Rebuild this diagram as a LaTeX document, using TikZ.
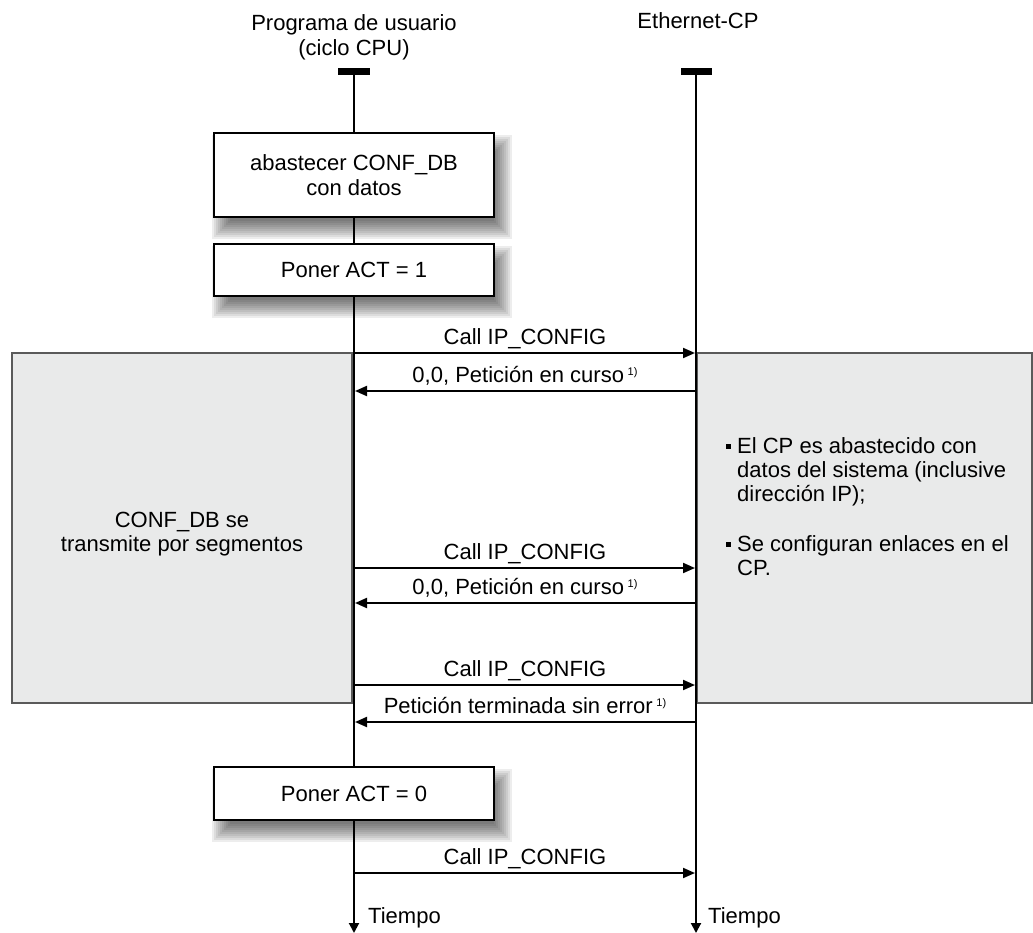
\documentclass[tikz,border=0pt]{standalone}
\usepackage{fontspec}
\setmainfont{Liberation Sans}
\usetikzlibrary{arrows.meta,calc}
\definecolor{panel}{RGB}{233,234,234}
\definecolor{panelborder}{RGB}{90,90,90}
\newcommand{\supone}{\,{\fontsize{11}{12}\selectfont\raisebox{7.5pt}{1)}}}
\newcommand{\softshadow}[4]{%
  \foreach \k in {0,...,9}{%
    \fill[black, opacity=0.07] (#1+8-10+2*\k,#2+12-10+2*\k) rectangle (#3+8+10-2*\k,#4+12+10-2*\k);
  }%
}
\begin{document}
\begin{tikzpicture}[x=1pt,y=-1pt,
  txt/.style={font=\fontsize{22}{25}\selectfont, inner sep=0pt, align=center},
  lifeline/.style={line width=2pt, -{Triangle[length=10pt,width=10pt]}},
  msg/.style={line width=2pt, -{Triangle[length=12pt,width=10pt]}, shorten >=1pt, shorten <=1pt},
  panelbox/.style={fill=panel, draw=panelborder, line width=1.5pt},
  actbox/.style={draw=black, fill=white, line width=2pt, txt, minimum width=280pt},
]
\useasboundingbox (0,0) rectangle (1033,933);

% grey panels
\draw[panelbox] (12,353) rectangle (352,703);
\draw[panelbox] (697,353) rectangle (1032,703);

% soft shadows of the boxes
\softshadow{214}{133}{494}{217}
\softshadow{214}{244}{494}{296}
\softshadow{214}{767}{494}{820}

% headers
\node[txt, anchor=base] (h1) at (354,30.5) {Programa de usuario};
\node[txt, anchor=base] (h2) at (354,55.5) {(ciclo CPU)};
\node[txt, anchor=base] (h3) at (698,28.5) {Ethernet-CP};

% lifelines
\fill (338,68) rectangle (370,75);
\fill (681,68) rectangle (712,75);
\coordinate (Ltop) at (354,70);
\coordinate (Lbot) at (354,933);
\coordinate (Rtop) at (696,70);
\coordinate (Rbot) at (696,933);
\draw[lifeline] (Ltop) -- (Lbot);
\draw[lifeline] (Rtop) -- (Rbot);

% activity boxes
\node[actbox, minimum height=84pt] (b1) at (354,175) {abastecer CONF\_DB\\con datos};
\node[actbox, minimum height=52pt] (b2) at (354,270) {Poner ACT = 1};
\node[actbox, minimum height=53pt] (b3) at (354,793.5) {Poner ACT = 0};

% messages
\foreach \n/\y in {1/353,2/391,3/568,4/603,5/685,6/722,7/873}{
  \coordinate (L\n) at (354,\y);
  \coordinate (R\n) at (696,\y);
}
\draw[msg] (L1) -- (R1) node[txt, pos=0.5, anchor=base, yshift=8.5pt] {Call IP\_CONFIG};
\draw[msg] (R2) -- (L2) node[txt, pos=0.5, anchor=base, yshift=8.5pt] {0,0, Petición en curso\supone};
\draw[msg] (L3) -- (R3) node[txt, pos=0.5, anchor=base, yshift=8.5pt] {Call IP\_CONFIG};
\draw[msg] (R4) -- (L4) node[txt, pos=0.5, anchor=base, yshift=8.5pt] {0,0, Petición en curso\supone};
\draw[msg] (L5) -- (R5) node[txt, pos=0.5, anchor=base, yshift=8.5pt] {Call IP\_CONFIG};
\draw[msg] (R6) -- (L6) node[txt, pos=0.5, anchor=base, yshift=8.5pt] {Petición terminada sin error\supone};
\draw[msg] (L7) -- (R7) node[txt, pos=0.5, anchor=base, yshift=8.5pt] {Call IP\_CONFIG};

% panel texts
\node[txt, anchor=base] (p1) at (182,527.5) {CONF\_DB se};
\node[txt, anchor=base] (p2) at (182,551.5) {transmite por segmentos};

\node[txt, anchor=base west] (r1) at (737,453.5) {El CP es abastecido con};
\node[txt, anchor=base west] (r2) at (737,477.5) {datos del sistema (inclusive};
\node[txt, anchor=base west] (r3) at (737,501.5) {dirección IP);};
\node[txt, anchor=base west] (r4) at (737,551.5) {Se configuran enlaces en el};
\node[txt, anchor=base west] (r5) at (737,575.5) {CP.};
\fill (726,444) rectangle (731,449);
\fill (726,542) rectangle (731,547);

% time labels
\node[txt, anchor=base west] (t1) at (368,923) {Tiempo};
\node[txt, anchor=base west] (t2) at (708,923) {Tiempo};
\end{tikzpicture}
\end{document}
